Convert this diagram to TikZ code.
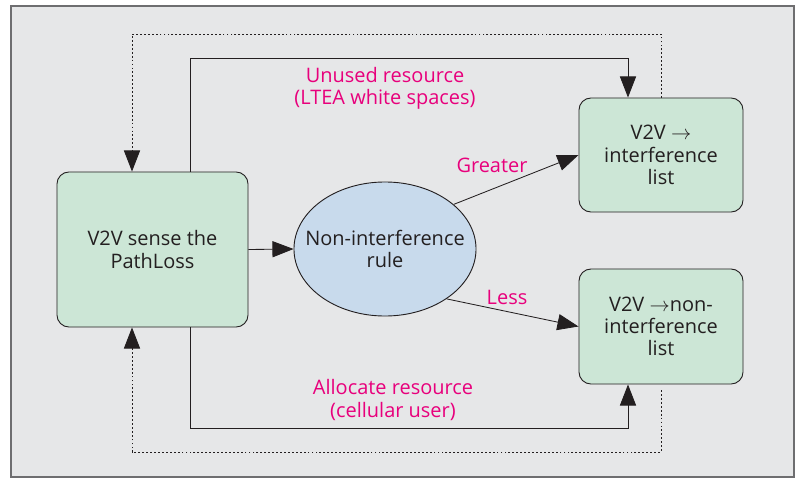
\documentclass[tikz,border=0pt]{standalone}
\usepackage{fontspec}
\setmainfont{Open Sans}
\usetikzlibrary{%
    arrows.meta,%
    shapes.geometric%
}
\definecolor{bggray}{RGB}{230,231,232}
\definecolor{framegray}{RGB}{110,110,112}
\definecolor{boxgreen}{RGB}{204,230,214}
\definecolor{ruleblue}{RGB}{200,218,236}
\definecolor{condpink}{RGB}{232,0,124}
\definecolor{textgray}{RGB}{35,31,32}

\begin{document}
\begin{tikzpicture}[
    x=0.025cm, y=-0.025cm,
    txt/.style={font={\fontsize{14.2}{15.8}\selectfont}, align=center},
    proc/.style={txt, draw=textgray, line width=0.65pt, fill=boxgreen,
        rounded corners=0.3cm, text=textgray, inner sep=0pt},
    rule/.style={txt, ellipse, draw=textgray, line width=0.65pt,
        fill=ruleblue, text=textgray, inner xsep=-12pt, inner ysep=0pt,
        minimum width=4.55cm, minimum height=3.35cm},
    cond/.style={txt, text=condpink, inner sep=0pt},
    flow/.style={draw=textgray, line width=0.6pt,
        -{Triangle[length=15pt,width=11.5pt]}},
    % dotted feedback paths
    feedback/.style={flow, dash pattern=on 1.3pt off 1.5pt},
    ]

    \useasboundingbox (0,0) rectangle (803,479);

    % Background frame
    \draw[framegray, line width=0.9pt, fill=bggray] (11,6) rectangle (794,477);

    % Blocks
    \node[proc, minimum width=4.775cm, minimum height=3.875cm]
        (sense) at (152.5,249.5) {V2V sense the\\PathLoss};
    \node[rule] (nirule) at (385,249) {Non-interference\\rule};
    \node[proc, minimum width=4.1cm, minimum height=2.85cm]
        (ilist) at (661,155) {V2V $\rightarrow$\\interference\\list};
    \node[proc, minimum width=4.1cm, minimum height=2.875cm]
        (nlist) at (661,326.5) {V2V $\rightarrow$non-\\interference\\list};

    % Labels
    \node[cond] (unused) at (385,88.5) {Unused resource\\(LTEA white spaces)};
    \node[cond] (alloc) at (393,400) {Allocate resource\\(cellular user)};
    \node[cond] (greater) at (492,165) {Greater};
    \node[cond] (less) at (507,297) {Less};

    % Turning points
    \coordinate (soltop) at (190,58);
    \coordinate (solbot) at (190,428);
    \coordinate (solright) at (628,0);
    \coordinate (dottop) at (132,34);
    \coordinate (dotbot) at (132,452);

    \draw[flow] (sense.east) -- (nirule.west);
    \draw[flow] (nirule.33) -- (ilist.west);
    \draw[flow] (nirule.-39) -- (nlist.west);

    \draw[flow] (sense.north -| soltop) -- (soltop)
        -- (soltop -| solright) -- (ilist.north -| solright);
    \draw[flow] (sense.south -| solbot) -- (solbot)
        -- (solbot -| solright) -- (nlist.south -| solright);

    \draw[feedback] (ilist.north) -- (ilist.north |- dottop)
        -- (dottop) -- (sense.north -| dottop);
    \draw[feedback] ([yshift=-4pt]nlist.south) -- (nlist.south |- dotbot)
        -- (dotbot) -- (sense.south -| dottop);
\end{tikzpicture}
\end{document}
